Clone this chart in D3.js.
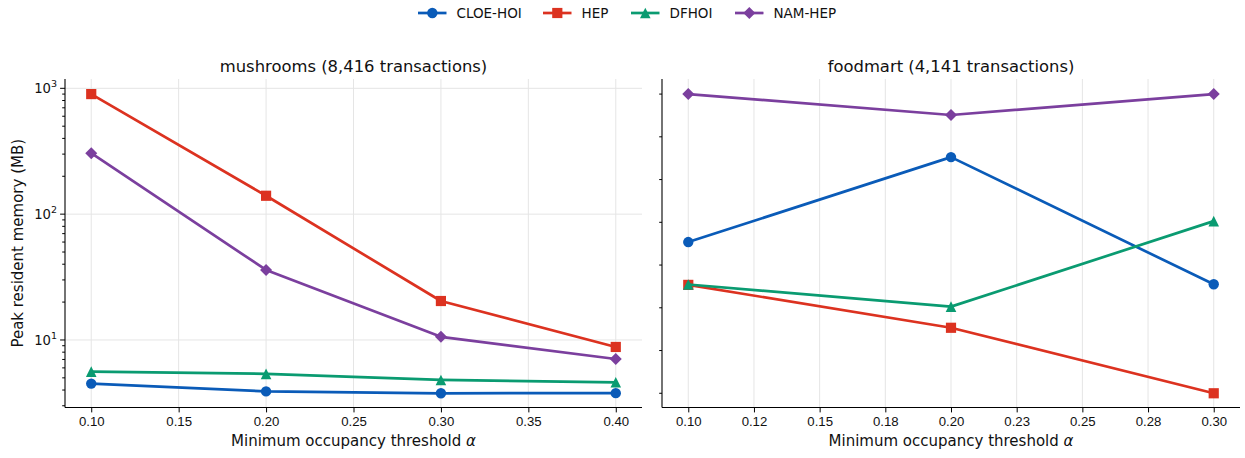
<!DOCTYPE html>
<html>
<head>
<meta charset="utf-8">
<script src="https://cdn.jsdelivr.net/npm/d3@7"></script>
<style>
  body { margin: 0; background: #fff; }
  svg { font-family: "DejaVu Sans", sans-serif; }
</style>
</head>
<body>
<div id="chart"></div>
<script>
// series names and colours
var seriesNames = ["CLOE-HOI", "HEP", "DFHOI", "NAM-HEP"];
var seriesColors = ["#0a5bb8", "#dc3220", "#0a9b71", "#7b3f9e"];
var seriesMarkers = ["circle", "square", "triangle", "diamond"];

// mushrooms panel
var mushAlpha = [0.10, 0.20, 0.30, 0.40];
var mushCloe = [4.5, 3.9, 3.77, 3.78];
var mushHep = [900, 140, 20.4, 8.8];
var mushDfhoi = [5.6, 5.38, 4.81, 4.61];
var mushNam = [305, 36, 10.6, 7.06];

// foodmart panel
var foodAlpha = [0.10, 0.20, 0.30];
var foodCloe = [60, 284, 27.7];
var foodHep = [27.4, 12.5, 3.77];
var foodDfhoi = [27.6, 18.4, 88];
var foodNam = [900, 614, 900];

var mushTicks = [0.10, 0.15, 0.20, 0.25, 0.30, 0.35, 0.40];
var foodTicks = [0.100, 0.125, 0.150, 0.175, 0.200, 0.225, 0.250, 0.275, 0.300];
var foodTickLabels = ["0.10", "0.12", "0.15", "0.18", "0.20", "0.23", "0.25", "0.28", "0.30"];

var W = 1245, H = 458;
var svg = d3.select("#chart").append("svg").attr("width", W).attr("height", H);

var yTop = 79, yBot = 407.5;
var y = d3.scaleLog().domain([2.906, 1186]).range([yBot, yTop]);

function markerPath(type) {
  var p = d3.path();
  if (type === "circle") { p.arc(0, 0, 5.2, 0, 2 * Math.PI); }
  else if (type === "square") { p.rect(-5.1, -5.1, 10.2, 10.2); }
  else if (type === "triangle") { p.moveTo(0, -5.3); p.lineTo(-5.3, 5.3); p.lineTo(5.3, 5.3); p.closePath(); }
  else { p.moveTo(0, -6); p.lineTo(6, 0); p.lineTo(0, 6); p.lineTo(-6, 0); p.closePath(); }
  return p.toString();
}

function panel(opts) {
  var x = d3.scaleLinear().domain(opts.xDomain).range([opts.x0, opts.x1]);
  var g = svg.append("g");

  // vertical grid
  g.selectAll(".vgrid").data(opts.xTicks).enter().append("line")
    .attr("x1", function(d) { return x(d); }).attr("x2", function(d) { return x(d); })
    .attr("y1", yTop).attr("y2", yBot)
    .attr("stroke", "#e5e5e5").attr("stroke-width", 1);

  // horizontal grid (major only)
  g.selectAll(".hgrid").data(opts.hGrid).enter().append("line")
    .attr("x1", opts.x0).attr("x2", opts.x1)
    .attr("y1", function(d) { return y(d); }).attr("y2", function(d) { return y(d); })
    .attr("stroke", "#e5e5e5").attr("stroke-width", 1);

  // series
  opts.series.forEach(function(vals, si) {
    var pts = opts.alpha.map(function(a, i) { return [x(a), y(vals[i])]; });
    g.append("path")
      .attr("d", d3.line()(pts))
      .attr("fill", "none")
      .attr("stroke", seriesColors[si])
      .attr("stroke-width", 2.7)
      .attr("stroke-linejoin", "round");
    g.selectAll(".m" + si).data(pts).enter().append("path")
      .attr("d", markerPath(seriesMarkers[si]))
      .attr("transform", function(d) { return "translate(" + d[0] + "," + d[1] + ")"; })
      .attr("fill", seriesColors[si]);
  });

  // x axis
  var xAxis = d3.axisBottom(x).tickValues(opts.xTicks).tickSizeOuter(0).tickSize(4.9).tickPadding(4)
    .tickFormat(function(d, i) { return opts.xLabels[i]; });
  var xg = g.append("g").attr("transform", "translate(0," + yBot + ")").call(xAxis);
  xg.select(".domain").attr("d", "M" + opts.x0 + ",0H" + opts.x1).attr("stroke", "#000").attr("stroke-width", 1.1);
  xg.selectAll("text").attr("font-size", 13.2).attr("fill", "#111");

  // y axis spine
  g.append("line").attr("x1", opts.x0).attr("x2", opts.x0).attr("y1", yTop).attr("y2", yBot)
    .attr("stroke", "#000").attr("stroke-width", 1.1);

  // y ticks
  g.selectAll(".ymaj").data(opts.yMajor).enter().append("line")
    .attr("x1", opts.x0 - 4.9).attr("x2", opts.x0)
    .attr("y1", function(d) { return y(d); }).attr("y2", function(d) { return y(d); })
    .attr("stroke", "#000");
  g.selectAll(".ymin").data(opts.yMinor).enter().append("line")
    .attr("x1", opts.x0 - 2.8).attr("x2", opts.x0)
    .attr("y1", function(d) { return y(d); }).attr("y2", function(d) { return y(d); })
    .attr("stroke", "#000");

  if (opts.yLabels) {
    opts.yMajor.forEach(function(v) {
      var t = g.append("text").attr("x", opts.x0 - 8).attr("y", y(v) + 5)
        .attr("text-anchor", "end").attr("font-size", 13.2).attr("fill", "#111");
      t.append("tspan").text("10");
      t.append("tspan").attr("dy", -6).attr("font-size", 9.5).text(Math.round(Math.log10(v)));
    });
  }

  // title
  g.append("text").attr("x", (opts.x0 + opts.x1) / 2).attr("y", 71.5)
    .attr("text-anchor", "middle").attr("font-size", 16.4).attr("fill", "#111").text(opts.title);

  // x label
  var xl = g.append("text").attr("x", (opts.x0 + opts.x1) / 2).attr("y", 446)
    .attr("text-anchor", "middle").attr("font-size", 15).attr("fill", "#111");
  xl.append("tspan").text("Minimum occupancy threshold ");
  xl.append("tspan").attr("font-style", "italic").text("\u03b1");
}

// log minor ticks for the mushrooms panel
var logMinor = [];
[1, 10, 100, 1000].forEach(function(dec) {
  for (var k = 2; k <= 9; k++) {
    var v = dec * k;
    if (v >= 2.906 && v <= 1186) logMinor.push(v);
  }
});

panel({
  x0: 65, x1: 642, xDomain: [0.085, 0.415],
  xTicks: mushTicks, xLabels: mushTicks.map(function(d) { return d.toFixed(2); }),
  alpha: mushAlpha,
  series: [mushCloe, mushHep, mushDfhoi, mushNam],
  hGrid: [10, 100, 1000], yMajor: [10, 100, 1000], yMinor: logMinor, yLabels: true,
  title: "mushrooms (8,416 transactions)"
});

// foodmart panel: unlabelled ticks spaced evenly in log between its extremes
var foodAll = foodCloe.concat(foodHep, foodDfhoi, foodNam);
var fLo = Math.log10(d3.min(foodAll)), fHi = Math.log10(d3.max(foodAll));
var foodYTicks = d3.range(8).map(function(i) { return Math.pow(10, fLo + (fHi - fLo) * i / 7); });

panel({
  x0: 662, x1: 1240, xDomain: [0.09, 0.31],
  xTicks: foodTicks, xLabels: foodTickLabels,
  alpha: foodAlpha,
  series: [foodCloe, foodHep, foodDfhoi, foodNam],
  hGrid: [], yMajor: [], yMinor: foodYTicks, yLabels: false,
  title: "foodmart (4,141 transactions)"
});

// y label
svg.append("text").attr("transform", "translate(23," + ((yTop + yBot) / 2) + ") rotate(-90)")
  .attr("text-anchor", "middle").attr("font-size", 15).attr("fill", "#111")
  .text("Peak resident memory (MB)");

// legend
var legX = [418, 543, 631, 735];
var leg = svg.append("g").selectAll("g").data(seriesNames).enter().append("g")
  .attr("transform", function(d, i) { return "translate(" + legX[i] + ",13)"; });
leg.append("line").attr("x1", 0).attr("x2", 28.5).attr("stroke", function(d, i) { return seriesColors[i]; })
  .attr("stroke-width", 2.7);
leg.append("path").attr("d", function(d, i) { return markerPath(seriesMarkers[i]); })
  .attr("transform", "translate(14.3,0)").attr("fill", function(d, i) { return seriesColors[i]; });
leg.append("text").attr("x", 38.5).attr("y", 4.8).attr("font-size", 13.5).attr("fill", "#111")
  .text(function(d) { return d; });
</script>
</body>
</html>
